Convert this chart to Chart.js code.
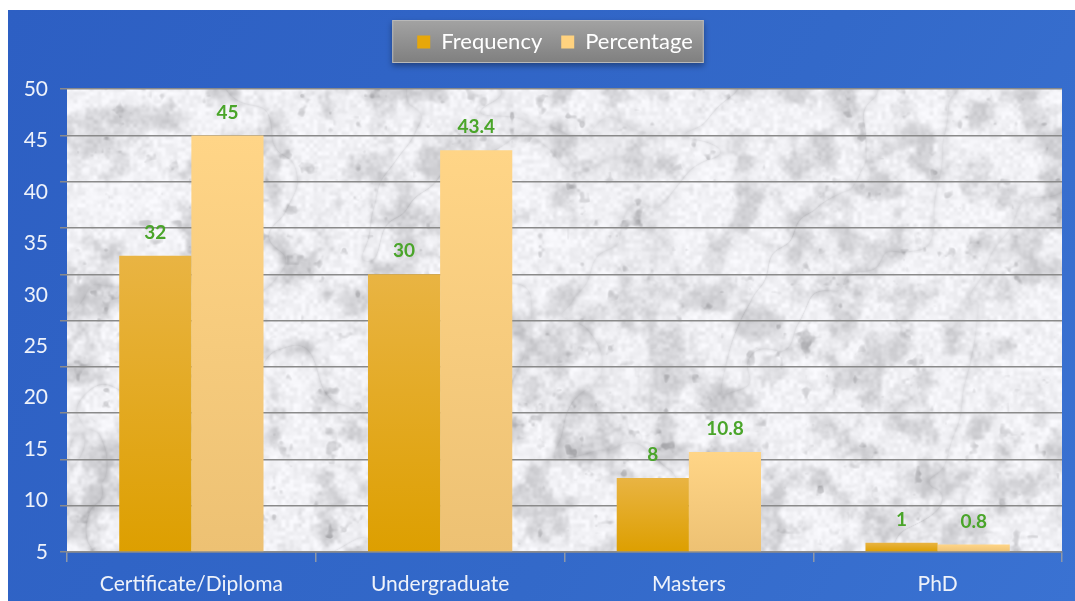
<!DOCTYPE html>
<html>
<head>
<meta charset="UTF-8">
<title>Education level</title>
<script src="https://cdn.jsdelivr.net/npm/chart.js"></script>
<style>
  html, body { margin: 0; padding: 0; background: #fff; }
  #wrap { position: absolute; left: 8px; top: 10px; width: 1067px; height: 591px; }
</style>
</head>
<body>
<div id="wrap"><canvas id="myChart" width="1067" height="591"></canvas></div>

<script>
// chart data
var levels = ['Certificate/Diploma', 'Undergraduate', 'Masters', 'PhD'];
var frequency = [32, 30, 8, 1];
var percentage = [45, 43.4, 10.8, 0.8];
var sideTicks = [5, 10, 15, 20, 25, 30, 35, 40, 45, 50];

var FONT = 'Lato, "Open Sans", sans-serif';
var legendColors = ['#e6a70a', '#ffd27f'];

// --- marble texture for the plot area (deterministic value noise) ---
function hash(x, y) {
  var n = Math.imul(x, 374761393) + Math.imul(y, 668265263);
  n = Math.imul(n ^ (n >>> 13), 1274126177);
  n = n ^ (n >>> 16);
  return (n >>> 0) / 4294967295;
}
function smooth(t) { return t * t * (3 - 2 * t); }
function vnoise(x, y) {
  var xi = Math.floor(x), yi = Math.floor(y);
  var xf = smooth(x - xi), yf = smooth(y - yi);
  var a = hash(xi, yi), b = hash(xi + 1, yi), c = hash(xi, yi + 1), d = hash(xi + 1, yi + 1);
  var top = a + (b - a) * xf, bot = c + (d - c) * xf;
  return top + (bot - top) * yf;
}
function fbm(x, y, oct) {
  var s = 0, amp = 0.5, f = 1, norm = 0;
  for (var o = 0; o < oct; o++) { s += amp * vnoise(x * f + o * 17.1, y * f + o * 5.3); norm += amp; f *= 2; amp *= 0.5; }
  return s / norm;
}
function band(e0, e1, v) { var t = Math.max(0, Math.min(1, (v - e0) / (e1 - e0))); return t * t * (3 - 2 * t); }

var marbleCache = null;
function marble(w, h) {
  if (marbleCache && marbleCache.width === w && marbleCache.height === h) return marbleCache;
  var c = document.createElement('canvas');
  c.width = w; c.height = h;
  var g = c.getContext('2d');
  var img = g.createImageData(w, h);
  for (var y = 0; y < h; y++) {
    for (var x = 0; x < w; x++) {
      var mottle = fbm(x / 26, y / 26, 4);
      var spots = fbm(x / 14 + 9.2, y / 14 + 3.4, 3);
      var fine = vnoise(x / 4, y / 4);
      var warp = fbm(x / 120 + 3.7, y / 120 + 9.1, 3);
      var r = vnoise((x * 0.8 + y * 0.6) / 70 + warp * 2.2, (y * 0.8 - x * 0.6) / 140 + warp * 2.2);
      var vein = Math.pow(1 - Math.abs(2 * r - 1), 20);
      var v = 242
        - 34 * band(0.42, 0.78, mottle)
        - 34 * band(0.7, 0.88, spots)
        - 9 * (fine - 0.5) * 2
        - 20 * vein;
      v = Math.max(130, Math.min(250, v));
      var i = (y * w + x) * 4;
      img.data[i] = v; img.data[i + 1] = v; img.data[i + 2] = v + 4; img.data[i + 3] = 255;
    }
  }
  g.putImageData(img, 0, 0);
  marbleCache = c;
  return c;
}

// blue page, marble plot area, grey legend panel
var backdrop = {
  id: 'backdrop',
  afterLayout: function (chart) {
    // the legend sits a little right of the canvas centre
    chart.legend.left += 20;
    chart.legend.right += 20;
  },
  beforeDraw: function (chart) {
    var ctx = chart.ctx, a = chart.chartArea;
    ctx.save();
    var bg = ctx.createLinearGradient(0, 0, chart.width, chart.height);
    bg.addColorStop(0, '#2d5fc3');
    bg.addColorStop(0.6, '#3369c9');
    bg.addColorStop(1, '#3a72d2');
    ctx.fillStyle = bg;
    ctx.fillRect(0, 0, chart.width, chart.height);

    var w = Math.round(a.right - a.left), h = Math.round(a.bottom - a.top);
    ctx.drawImage(marble(w, h), Math.round(a.left), Math.round(a.top));

    var boxes = chart.legend.legendHitBoxes;
    if (boxes && boxes.length) {
      var first = boxes[0], last = boxes[boxes.length - 1];
      var cy = first.top + first.height / 2;
      var lx = first.left - 25, rx = last.left + last.width + 11;
      var ty = cy - 22, by = cy + 21;
      ctx.shadowColor = 'rgba(0,0,0,0.35)';
      ctx.shadowBlur = 6;
      ctx.shadowOffsetY = 3;
      var lg = ctx.createLinearGradient(0, ty, 0, by);
      lg.addColorStop(0, '#a3a3a3');
      lg.addColorStop(1, '#7f7f7f');
      ctx.fillStyle = lg;
      ctx.fillRect(lx, ty, rx - lx, by - ty);
      ctx.shadowColor = 'transparent';
      ctx.strokeStyle = '#b9b9b9';
      ctx.lineWidth = 1;
      ctx.strokeRect(lx + 0.5, ty + 0.5, rx - lx - 1, by - ty - 1);
    }
    ctx.restore();
  }
};

// value labels above each bar
var barValues = {
  id: 'barValues',
  afterDatasetsDraw: function (chart) {
    var ctx = chart.ctx;
    ctx.save();
    ctx.font = 'bold 19px ' + FONT;
    ctx.fillStyle = '#4aa52a';
    ctx.textAlign = 'center';
    ctx.textBaseline = 'middle';
    chart.data.datasets.forEach(function (ds, i) {
      chart.getDatasetMeta(i).data.forEach(function (bar, j) {
        ctx.fillText(String(ds.data[j]), bar.x, bar.y - 23);
      });
    });
    ctx.restore();
  }
};

function barFill(top, bottom) {
  return function (c) {
    var chart = c.chart;
    if (!chart.chartArea || c.type !== 'data') return top;
    var y0 = chart.scales.y.getPixelForValue(c.raw);
    var y1 = chart.scales.y.getPixelForValue(0);
    if (y1 - y0 < 1) return bottom;
    var g = chart.ctx.createLinearGradient(0, y0, 0, y1);
    g.addColorStop(0, top);
    g.addColorStop(1, bottom);
    return g;
  };
}

var tickColor = '#eef2fa';

new Chart(document.getElementById('myChart'), {
  type: 'bar',
  data: {
    labels: levels,
    datasets: [
      { label: 'Frequency', data: frequency, backgroundColor: barFill('#e9b443', '#dd9f00') },
      { label: 'Percentage', data: percentage, backgroundColor: barFill('#ffd587', '#edc173') }
    ]
  },
  options: {
    responsive: false,
    animation: false,
    layout: { padding: { top: 2, right: 13, left: 0, bottom: 0 } },
    datasets: { bar: { categoryPercentage: 0.58, barPercentage: 1 } },
    plugins: {
      tooltip: { enabled: false },
      legend: {
        position: 'top',
        weight: 3000,
        labels: {
          boxWidth: 13,
          boxHeight: 13,
          padding: 19,
          color: '#ffffff',
          font: { family: FONT, size: 22 },
          generateLabels: function (chart) {
            var items = Chart.defaults.plugins.legend.labels.generateLabels(chart);
            items.forEach(function (it, i) {
              it.fillStyle = legendColors[i];
              it.strokeStyle = legendColors[i];
              it.lineWidth = 0;
            });
            return items;
          }
        }
      },
      // empty spacer between the legend and the plot
      subtitle: {
        display: true,
        text: '',
        weight: 1500,
        font: { size: 1 },
        padding: { top: 0, bottom: 25 }
      }
    },
    scales: {
      x: {
        grid: { drawOnChartArea: false, offset: true, tickLength: 10, color: '#8d97a8', lineWidth: 1.5 },
        border: { color: '#8d8d8d', width: 1.5 },
        ticks: { color: tickColor, font: { family: FONT, size: 21 }, padding: 10, maxRotation: 0 },
        afterFit: function (s) { s.height = 49; }
      },
      y: {
        min: 0,
        max: 50,
        weight: 0,
        ticks: { stepSize: 5, display: false },
        grid: { color: '#8a8a8a', lineWidth: 1.5, tickLength: 7 },
        border: { display: false },
        afterFit: function (s) { s.width = 0; }
      },
      y2: {
        position: 'left',
        weight: 1,
        min: sideTicks[0],
        max: sideTicks[sideTicks.length - 1],
        ticks: { stepSize: 5, color: tickColor, font: { family: FONT, size: 21 }, padding: 19 },
        grid: { display: false, drawTicks: false },
        border: { display: false },
        afterFit: function (s) { s.width = 59; }
      }
    }
  },
  plugins: [backdrop, barValues]
});
</script>
</body>
</html>
